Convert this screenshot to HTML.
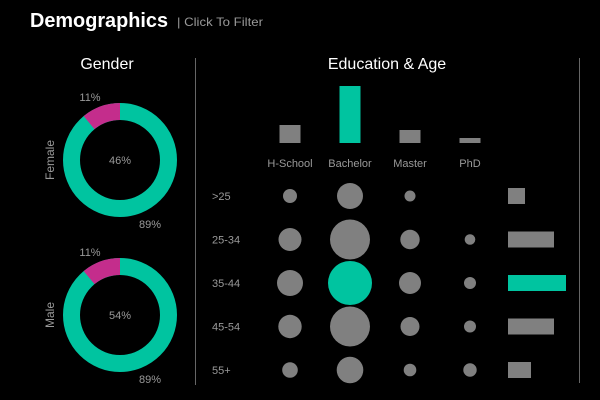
<!DOCTYPE html>
<html><head><meta charset="utf-8"><style>
html,body{margin:0;padding:0;background:#000;}
svg{display:block;font-family:"Liberation Sans","DejaVu Sans",sans-serif;}
</style></head><body>
<svg id="chart" width="600" height="400" viewBox="0 0 600 400">
<text x="30" y="27" fill="#fff" font-size="20" font-weight="bold" textLength="138" lengthAdjust="spacingAndGlyphs">Demographics</text>
<text x="177" y="26" fill="#999" font-size="12" textLength="86" lengthAdjust="spacingAndGlyphs">| Click To Filter</text>
<text x="107" y="69" fill="#fff" font-size="16" text-anchor="middle">Gender</text>
<text x="387" y="69" fill="#fff" font-size="16" text-anchor="middle">Education &amp; Age</text>
<line x1="195.5" y1="58" x2="195.5" y2="385" stroke="#666"/>
<line x1="579.5" y1="58" x2="579.5" y2="383" stroke="#666"/>
<g id="g"></g>
</svg>
<script>
const genders=["Female","Male"];
const genderShare=["46%","54%"];
const pinkPct=[11,11];
const eduCats=["H-School","Bachelor","Master","PhD"];
const eduVals=[18,57,13,5];
const ageCats=[">25","25-34","35-44","45-54","55+"];
const ageTotals=[17,46,58,46,23];
const bubbles=[[7,13,5.5,0],[11.5,20,9.7,5.3],[13,22,11,6],[11.7,20,9.5,6],[7.8,13.3,6.3,6.7]];
const selEdu=1, selAge=2;
const NS="http://www.w3.org/2000/svg";
const g=document.getElementById('g');
function mk(t,a,p){const e=document.createElementNS(NS,t);for(const k in a)e.setAttribute(k,a[k]);(p||g).appendChild(e);return e;}
const TEAL="#00c4a0",PINK="#c42d8c",GRAY="#808080";
genders.forEach((name,i)=>{
  const cx=120,cy=160+i*155,r=48.5,sw=17;
  const ring=mk('circle',{cx,cy,r,fill:'none',stroke:TEAL,'stroke-width':sw});
  
  
  const p=pinkPct[i]/100, a=-Math.PI/2-p*2*Math.PI;
  const x0=cx,y0=cy-r,x1=cx+r*Math.cos(a),y1=cy+r*Math.sin(a);
  const arc=mk('path',{d:`M${x0},${y0} A${r},${r} 0 0 0 ${x1},${y1}`,fill:'none',stroke:PINK,'stroke-width':sw});
  
  
  const t1=mk('text',{x:90,y:cy-59,fill:'#999','font-size':11,'text-anchor':'middle'});t1.textContent=pinkPct[i]+'%';
  
  
  const t2=mk('text',{x:150,y:cy+68,fill:'#999','font-size':11,'text-anchor':'middle'});t2.textContent=(100-pinkPct[i])+'%';
  
  
  const t3=mk('text',{x:cx,y:cy+4,fill:'#999','font-size':11,'text-anchor':'middle'});t3.textContent=genderShare[i];
  
  
  const t4=mk('text',{x:0,y:0,fill:'#999','font-size':12,'text-anchor':'middle',transform:`translate(54,${cy}) rotate(-90)`});t4.textContent=name;
  
  
});
const colX=i=>290+i*60, base=143, bw=21;
eduCats.forEach((c,i)=>{
  const h=eduVals[i];
  const b=mk('rect',{x:colX(i)-bw/2,y:base-h,width:bw,height:h,fill:i===selEdu?TEAL:GRAY});
  
  
  const t=mk('text',{x:colX(i),y:167,fill:'#999','font-size':11,'text-anchor':'middle'});t.textContent=c;
  
  
});
const rowY=j=>196+j*43.5;
ageCats.forEach((c,j)=>{
  const t=mk('text',{x:212,y:rowY(j)+4,fill:'#999','font-size':11});t.textContent=c;
  
  
  bubbles[j].forEach((r,i)=>{
    if(r<=0)return;
    const ci=mk('circle',{cx:colX(i),cy:rowY(j),r,fill:(i===selEdu&&j===selAge)?TEAL:GRAY});
    
    
  });
  const b=mk('rect',{x:508,y:rowY(j)-8,width:ageTotals[j],height:16,fill:j===selAge?TEAL:GRAY});
  
  
});
</script>
</body></html>
